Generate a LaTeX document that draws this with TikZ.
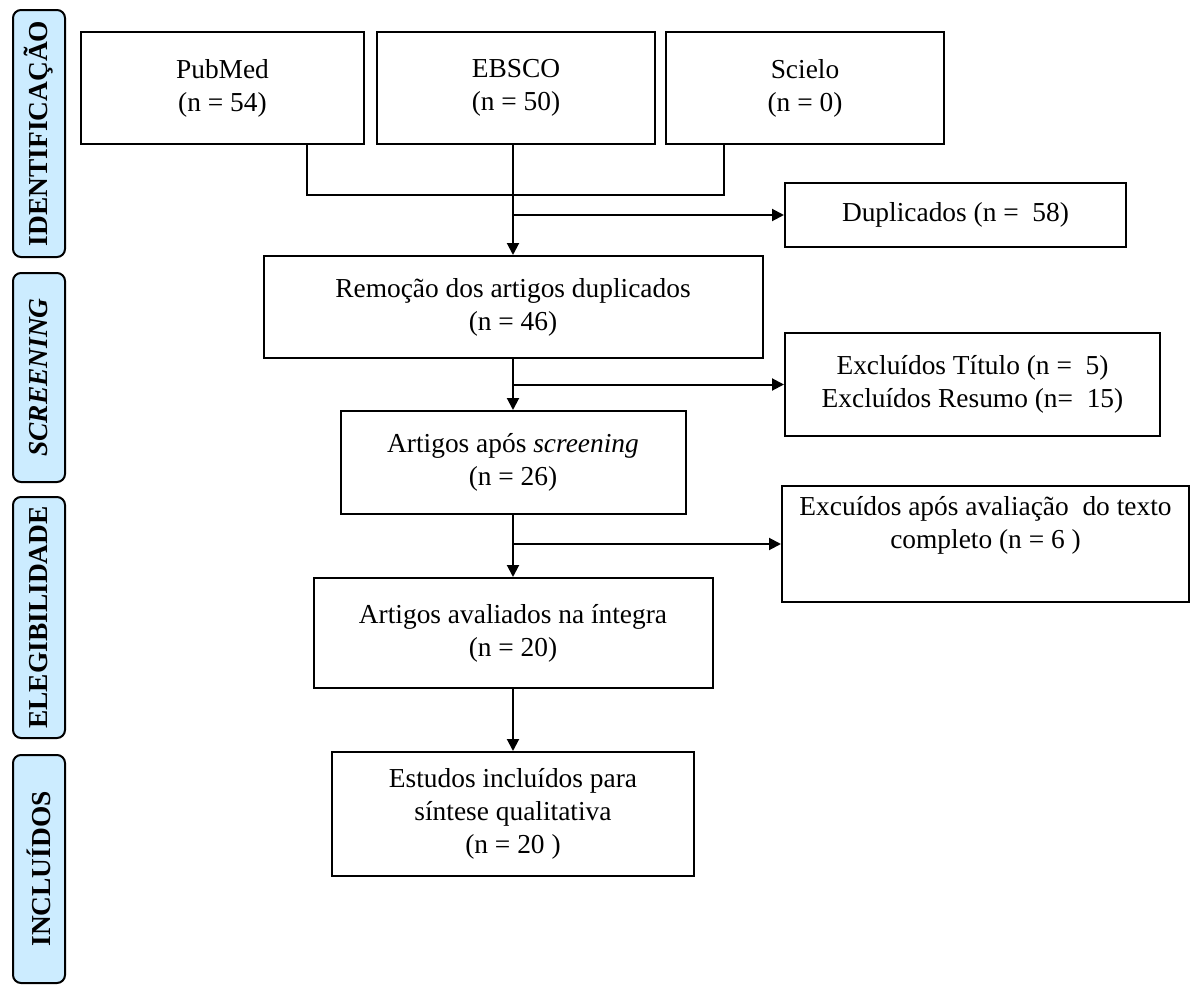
\documentclass[tikz,border=0pt]{standalone}
\usepackage{fontspec}
\setmainfont{Liberation Serif}
\usetikzlibrary{arrows.meta,calc}

\definecolor{phaseblue}{RGB}{204,236,255}

\begin{document}
\begin{tikzpicture}[
  x=0.5pt, y=-0.5pt,
  every node/.style={font=\fontsize{13.7}{16.5}\selectfont},
  box/.style={draw, line width=1pt, align=center, inner sep=0pt},
  phase/.style={draw, line width=1pt, fill=phaseblue, rounded corners=4pt,
    rotate=90, inner sep=0pt, minimum height=26pt, font=\fontsize{13.7}{16.5}\selectfont\bfseries},
  link/.style={line width=1pt},
  arrow/.style={line width=1pt, -{Triangle[length=6pt,width=6pt]}}
]
\useasboundingbox (0,0) rectangle (1190,985);

% Phase labels
\node[phase, minimum width=123.5pt] (ident) at (39,133.5) {IDENTIFICAÇÃO};
\node[phase, minimum width=104.5pt] (screen) at (39,377.5) {\itshape SCREENING};
\node[phase, minimum width=120.5pt] (eleg) at (39,617.5) {ELEGIBILIDADE};
\node[phase, minimum width=114pt] (incl) at (39,869) {INCLUÍDOS};

% Databases
\node[box, minimum width=141.5pt, minimum height=56pt] (pubmed) at (222.5,88) {PubMed\\(n = 54)};
\node[box, minimum width=139pt, minimum height=56pt] (ebsco) at (516,88) {EBSCO\\(n = 50)};
\node[box, minimum width=139pt, minimum height=56pt] (scielo) at (805,88) {Scielo\\(n = 0)};

% Main flow
\node[box, minimum width=249.5pt, minimum height=51pt] (remocao) at (513,307) {Remoção dos artigos duplicados\\(n = 46)};
\node[box, minimum width=172.5pt, minimum height=51.5pt] (apos) at (513,462.5) {Artigos após \textit{screening}\\(n = 26)};
\node[box, minimum width=199.5pt, minimum height=55pt] (aval) at (513,633) {Artigos avaliados na íntegra\\(n = 20)};
\node[box, minimum width=181pt, minimum height=62pt] (estudos) at (513,814) {Estudos incluídos para\\síntese qualitativa\\(n = 20 )};

% Exclusions
\node[box, minimum width=170.5pt, minimum height=32pt] (dup) at (955.5,215) {Duplicados (n =~~58)};
\node[box, minimum width=187.5pt, minimum height=51.5pt] (exclA) at (972.5,384.5) {Excluídos Título (n =~~5)\\Excluídos Resumo (n=~~15)};
\node[box, minimum width=203.5pt, minimum height=58pt, text depth=22pt] (exclB) at (985.5,544) {Excuídos após avaliação~~do texto\\completo (n = 6 )};

% Connectors
\coordinate (pmfoot) at (307,195);
\coordinate (scfoot) at (724,195);
\draw[link] (pmfoot |- pubmed.south) -- (pmfoot) -- (scfoot) -- (scfoot |- scielo.south);
\draw[arrow] (remocao.north |- ebsco.south) -- (remocao.north);
\draw[arrow] (remocao.north |- dup.west) -- (dup.west);
\draw[arrow] (remocao.south) -- (apos.north);
\draw[arrow] (remocao.south |- exclA.west) -- (exclA.west);
\draw[arrow] (apos.south) -- (aval.north);
\draw[arrow] (apos.south |- exclB.west) -- (exclB.west);
\draw[arrow] (aval.south) -- (estudos.north);
\end{tikzpicture}
\end{document}
